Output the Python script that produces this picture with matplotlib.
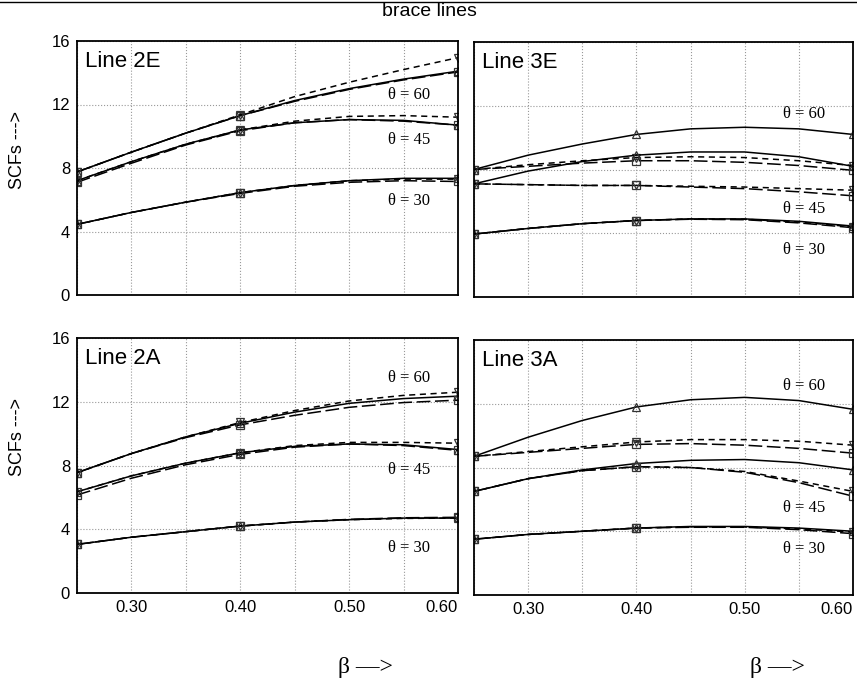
import numpy as np
import matplotlib.pyplot as plt
from matplotlib.ticker import MultipleLocator

plt.rcParams['font.family'] = ['Liberation Sans', 'DejaVu Sans']

beta = [0.25, 0.30, 0.35, 0.40, 0.45, 0.50, 0.55, 0.60]
mark_idx = [0, 3, 7]   # data points shown with markers (0.25, 0.40, 0.60)

# Line 2E
l2e_60_solid = [7.75, 9.0, 10.2, 11.3, 12.25, 13.0, 13.6, 14.1]
l2e_60_long = [7.75, 9.0, 10.2, 11.3, 12.2, 12.95, 13.55, 14.05]
l2e_60_short = [7.75, 9.0, 10.2, 11.35, 12.5, 13.4, 14.2, 14.95]
l2e_45_solid = [7.2, 8.4, 9.5, 10.4, 10.85, 11.05, 11.0, 10.7]
l2e_45_long = [7.1, 8.3, 9.45, 10.35, 10.85, 11.05, 10.95, 10.7]
l2e_45_short = [7.2, 8.4, 9.5, 10.4, 10.95, 11.25, 11.3, 11.2]
l2e_30_solid = [4.45, 5.2, 5.85, 6.45, 6.9, 7.2, 7.35, 7.35]
l2e_30_long = [4.45, 5.2, 5.85, 6.4, 6.85, 7.1, 7.2, 7.15]
l2e_30_short = [4.45, 5.2, 5.85, 6.45, 6.9, 7.2, 7.3, 7.3]

# Line 3E
l3e_60_solid = [8.0, 8.9, 9.6, 10.2, 10.55, 10.65, 10.55, 10.2]
l3e_60_long = [8.0, 8.2, 8.4, 8.55, 8.55, 8.45, 8.25, 7.95]
l3e_60_short = [8.0, 8.3, 8.55, 8.75, 8.8, 8.75, 8.55, 8.25]
l3e_45_solid = [7.1, 7.9, 8.5, 8.9, 9.1, 9.1, 8.8, 8.2]
l3e_45_long = [7.1, 7.05, 7.0, 7.0, 6.9, 6.8, 6.6, 6.35]
l3e_45_short = [7.1, 7.05, 7.0, 7.0, 6.95, 6.9, 6.8, 6.7]
l3e_30_solid = [3.95, 4.3, 4.6, 4.8, 4.9, 4.9, 4.75, 4.45]
l3e_30_long = [3.95, 4.3, 4.6, 4.8, 4.88, 4.85, 4.65, 4.35]
l3e_30_short = [3.95, 4.3, 4.6, 4.8, 4.9, 4.88, 4.7, 4.4]

# Line 2A
l2a_60_solid = [7.55, 8.75, 9.8, 10.65, 11.35, 11.9, 12.2, 12.35]
l2a_60_long = [7.55, 8.75, 9.75, 10.55, 11.15, 11.65, 11.95, 12.1]
l2a_60_short = [7.55, 8.75, 9.8, 10.7, 11.45, 12.05, 12.4, 12.6]
l2a_45_solid = [6.35, 7.35, 8.15, 8.8, 9.2, 9.35, 9.3, 9.0]
l2a_45_long = [6.15, 7.2, 8.05, 8.7, 9.15, 9.35, 9.25, 8.95]
l2a_45_short = [6.35, 7.35, 8.15, 8.8, 9.25, 9.45, 9.45, 9.4]
l2a_30_solid = [3.05, 3.5, 3.85, 4.2, 4.45, 4.6, 4.7, 4.7]
l2a_30_long = [3.05, 3.5, 3.85, 4.2, 4.45, 4.62, 4.72, 4.75]
l2a_30_short = [3.05, 3.5, 3.85, 4.2, 4.45, 4.6, 4.68, 4.7]

# Line 3A
l3a_60_solid = [8.7, 9.9, 10.95, 11.8, 12.25, 12.4, 12.2, 11.65]
l3a_60_long = [8.7, 8.95, 9.2, 9.45, 9.5, 9.4, 9.2, 8.9]
l3a_60_short = [8.7, 9.0, 9.3, 9.6, 9.75, 9.75, 9.65, 9.4]
l3a_45_solid = [6.5, 7.3, 7.85, 8.25, 8.45, 8.5, 8.3, 7.85]
l3a_45_long = [6.5, 7.3, 7.8, 8.05, 8.0, 7.7, 7.05, 6.2]
l3a_45_short = [6.5, 7.3, 7.8, 8.05, 8.0, 7.75, 7.15, 6.5]
l3a_30_solid = [3.5, 3.8, 4.0, 4.2, 4.3, 4.3, 4.2, 4.0]
l3a_30_long = [3.5, 3.8, 4.0, 4.2, 4.25, 4.25, 4.1, 3.85]
l3a_30_short = [3.5, 3.8, 4.0, 4.2, 4.28, 4.27, 4.15, 3.95]

panels = {
    "Line 2E": [l2e_60_solid, l2e_60_long, l2e_60_short,
                l2e_45_solid, l2e_45_long, l2e_45_short,
                l2e_30_solid, l2e_30_long, l2e_30_short],
    "Line 3E": [l3e_60_solid, l3e_60_long, l3e_60_short,
                l3e_45_solid, l3e_45_long, l3e_45_short,
                l3e_30_solid, l3e_30_long, l3e_30_short],
    "Line 2A": [l2a_60_solid, l2a_60_long, l2a_60_short,
                l2a_45_solid, l2a_45_long, l2a_45_short,
                l2a_30_solid, l2a_30_long, l2a_30_short],
    "Line 3A": [l3a_60_solid, l3a_60_long, l3a_60_short,
                l3a_45_solid, l3a_45_long, l3a_45_short,
                l3a_30_solid, l3a_30_long, l3a_30_short],
}
# (theta label, y position) for each panel
theta_labels = {
    "Line 2E": [("60", 12.6), ("45", 9.75), ("30", 5.9)],
    "Line 3E": [("60", 11.5), ("45", 5.55), ("30", 2.95)],
    "Line 2A": [("60", 13.5), ("45", 7.7), ("30", 2.8)],
    "Line 3A": [("60", 13.1), ("45", 5.45), ("30", 2.9)],
}

# style for solid / long dash / short dash series
styles = [
    dict(linestyle="-", marker="^"),
    dict(linestyle=(0, (9, 3)), marker="s"),
    dict(linestyle=(0, (4, 3)), marker="v"),
]

W, H = 857, 680
fig = plt.figure(figsize=(W / 100, H / 100), dpi=100)

boxes = {
    "Line 2E": (77, 41, 458, 295),
    "Line 3E": (474, 42, 853, 297),
    "Line 2A": (77, 338, 458, 593),
    "Line 3A": (474, 340, 853, 595),
}

for name, curves in panels.items():
    x0, y0, x1, y1 = boxes[name]
    ax = fig.add_axes([x0 / W, 1 - y1 / H, (x1 - x0) / W, (y1 - y0) / H])
    for i, vals in enumerate(curves):
        st = styles[i % 3]
        ax.plot(beta, vals, color="black", lw=1.1, linestyle=st["linestyle"],
                marker=st["marker"], markevery=mark_idx, ms=5.5,
                mfc="none", mec="#333333", mew=0.9)
    ax.set_xlim(0.25, 0.60)
    ax.set_ylim(0, 16)
    ax.set_yticks([0, 4, 8, 12, 16])
    ax.set_xticks([0.30, 0.40, 0.50, 0.60])
    ax.xaxis.set_minor_locator(MultipleLocator(0.05))
    ax.grid(True, which="both", linestyle=":", color="#999999", lw=0.8)
    ax.tick_params(length=0, labelsize=12, pad=5)
    ax.tick_params(which="minor", length=0)
    for sp in ax.spines.values():
        sp.set_linewidth(1.3)
    if name in ("Line 2A", "Line 3A"):
        ax.set_xticklabels(["0.30", "0.40", "0.50", "0.60"])
        ax.get_xticklabels()[-1].set_horizontalalignment("right")
    else:
        ax.set_xticklabels([])
    if name in ("Line 3E", "Line 3A"):
        ax.set_yticklabels([])
    ax.text(0.02, 0.96, name, transform=ax.transAxes, fontsize=16,
            va="top", ha="left")
    for th, yy in theta_labels[name]:
        ax.text(0.555, yy, "\u03b8 = " + th, fontsize=12,
                family="Liberation Serif", ha="center", va="center")

fig.text(429 / W, 1 - 12 / H, "brace lines", ha="center", va="center", fontsize=14)
fig.text(18 / W, 1 - 150 / H, "SCFs --->", rotation=90, ha="center", va="center", fontsize=13)
fig.text(18 / W, 1 - 437 / H, "SCFs --->", rotation=90, ha="center", va="center", fontsize=13)
fig.text(365 / W, 1 - 668 / H, "\u03b2 \u2014>", ha="center", va="center", fontsize=17,
         family="Liberation Serif")
fig.text(777 / W, 1 - 668 / H, "\u03b2 \u2014>", ha="center", va="center", fontsize=17,
         family="Liberation Serif")
fig.add_artist(plt.Line2D([0, 1], [1 - 1.5 / H, 1 - 1.5 / H], color="black", lw=1))

fig.savefig("out.png", dpi=100)
